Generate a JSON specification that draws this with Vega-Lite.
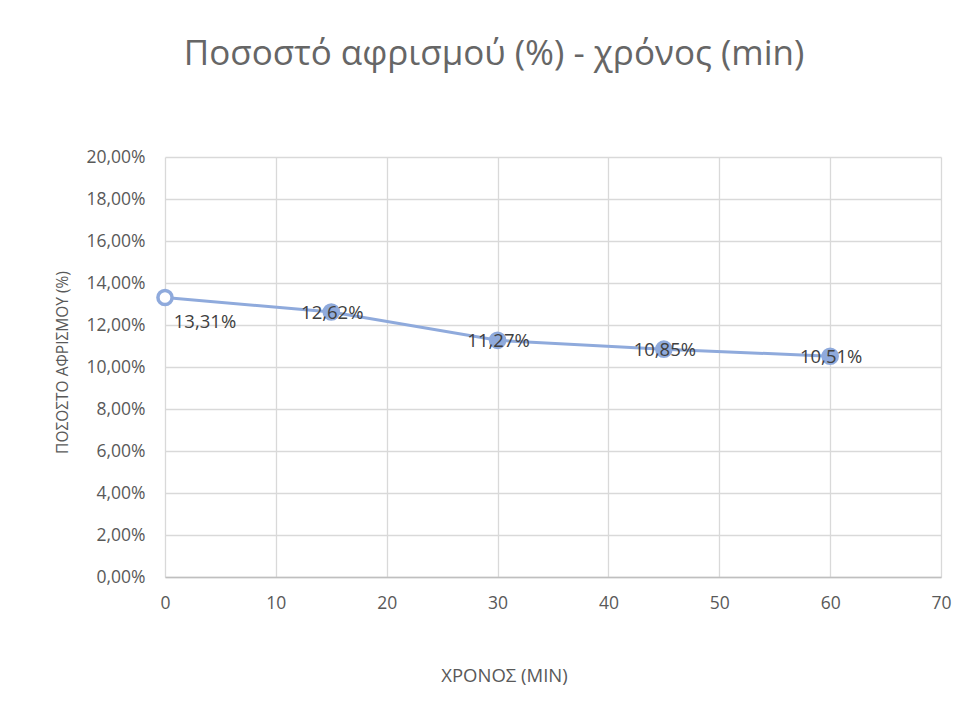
{
  "$schema": "https://vega.github.io/schema/vega-lite/v6.json",
  "autosize": "none",
  "width": 776,
  "height": 420,
  "padding": {"left": 165, "top": 157, "right": 28, "bottom": 136},
  "background": "white",
  "title": {
    "text": "Ποσοστό αφρισμού (%) - χρόνος (min)",
    "font": "Open Sans",
    "fontSize": 35,
    "fontWeight": "normal",
    "color": "#666666",
    "anchor": "middle",
    "dx": -59,
    "offset": 76
  },
  "data": {
    "values": [
      {"t": 0, "p": 0.1331},
      {"t": 15, "p": 0.1262},
      {"t": 30, "p": 0.1127},
      {"t": 45, "p": 0.1085},
      {"t": 60, "p": 0.1051}
    ]
  },
  "encoding": {
    "x": {
      "field": "t",
      "type": "quantitative",
      "scale": {"domain": [0, 70], "nice": false, "zero": false},
      "axis": {
        "title": "ΧΡΟΝΟΣ (MIN)",
        "values": [0, 10, 20, 30, 40, 50, 60, 70],
        "titleX": 339,
        "titleY": 98,
        "titleBaseline": "middle",
        "titleFont": "Open Sans",
        "titleFontSize": 18.5,
        "titleFontWeight": "normal",
        "titleColor": "#595959",
        "labelFont": "Open Sans",
        "labelFontSize": 17.5,
        "labelColor": "#595959",
        "labelPadding": 17,
        "labelFlush": false,
        "ticks": false,
        "domain": true,
        "domainColor": "#bfbfbf",
        "domainWidth": 1.5,
        "grid": true,
        "gridColor": "#d9d9d9",
        "gridWidth": 1.3
      }
    },
    "y": {
      "field": "p",
      "type": "quantitative",
      "scale": {"domain": [0, 0.2], "nice": false},
      "axis": {
        "title": "ΠΟΣΟΣΤΟ ΑΦΡΙΣΜΟΥ (%)",
        "values": [0, 0.02, 0.04, 0.06, 0.08, 0.1, 0.12, 0.14, 0.16, 0.18, 0.2],
        "labelExpr": "replace(format(datum.value, '.2%'), '.', ',')",
        "titleX": -103,
        "titleY": 205,
        "titleAngle": -90,
        "titleAlign": "center",
        "titleBaseline": "middle",
        "titleFont": "Open Sans",
        "titleFontSize": 15.5,
        "titleFontWeight": "normal",
        "titleColor": "#595959",
        "labelFont": "Open Sans",
        "labelFontSize": 17.5,
        "labelColor": "#595959",
        "labelPadding": 20,
        "labelFlush": false,
        "ticks": false,
        "domain": false,
        "grid": true,
        "gridColor": "#d9d9d9",
        "gridWidth": 1.3
      }
    }
  },
  "layer": [
    {
      "mark": {"type": "line", "color": "#8faadc", "strokeWidth": 3}
    },
    {
      "mark": {"type": "point", "shape": "circle", "size": 200, "strokeWidth": 3.5, "stroke": "#8faadc", "opacity": 1},
      "encoding": {
        "fill": {"condition": {"test": "datum.t == 0", "value": "white"}, "value": "#8faadc"}
      }
    },
    {
      "transform": [{"filter": "datum.t == 0"}],
      "mark": {"type": "text", "font": "Open Sans", "fontSize": 18.5, "color": "#404040", "dx": 40, "dy": 25,
        "text": {"expr": "replace(format(datum.p, '.2%'), '.', ',')"}},
      "encoding": {}
    },
    {
      "transform": [{"filter": "datum.t > 0"}],
      "mark": {"type": "text", "font": "Open Sans", "fontSize": 18.5, "color": "#404040", "dx": 1, "dy": 1,
        "text": {"expr": "replace(format(datum.p, '.2%'), '.', ',')"}},
      "encoding": {}
    }
  ],
  "config": {"view": {"stroke": null}}
}
